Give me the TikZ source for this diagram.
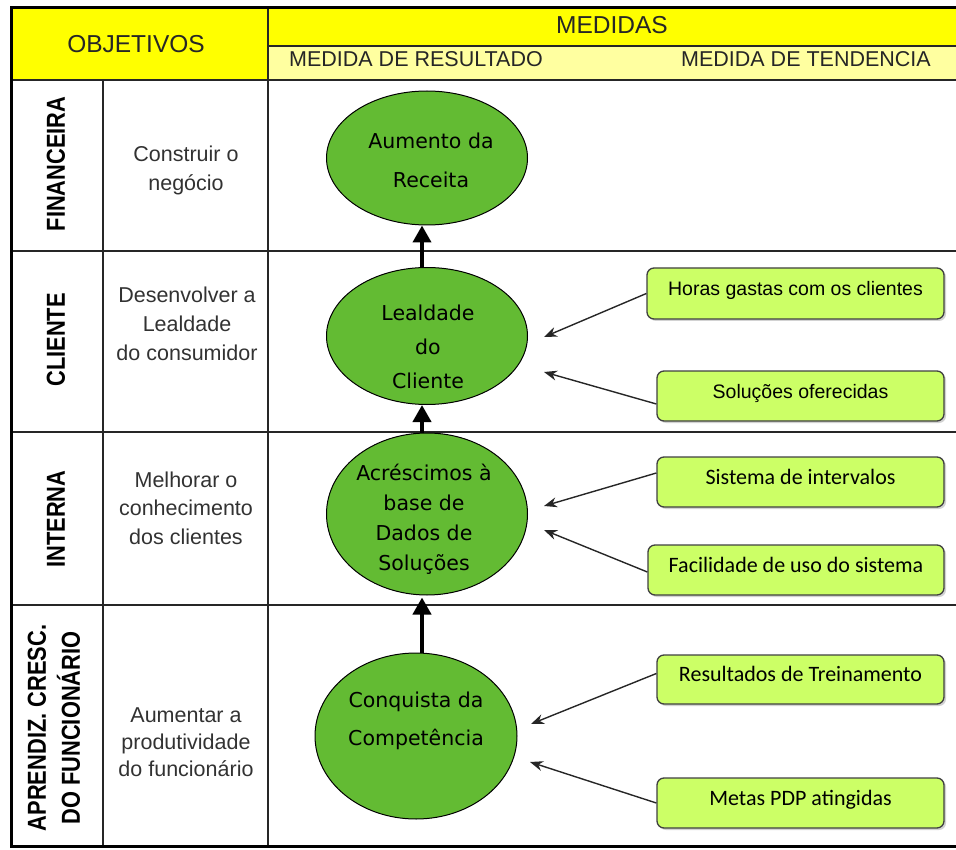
\documentclass[tikz,border=0pt]{standalone}
\usepackage{fontspec}
\setmainfont{Liberation Sans}
\newfontfamily\calfont{Carlito}
\newfontfamily\ellfont{DejaVu Sans}
\usetikzlibrary{shapes.geometric,arrows.meta,shadows}
\definecolor{hdryellow}{RGB}{255,255,0}
\definecolor{subyellow}{RGB}{255,255,160}
\definecolor{ellgreen}{RGB}{99,187,51}
\definecolor{boxgreen}{RGB}{204,255,102}
\definecolor{txtgray}{RGB}{50,50,50}
\begin{document}
\begin{tikzpicture}[x=1pt,y=-1pt,
  gridline/.style={line width=1.6pt, draw=black!85},
  outerline/.style={line width=3pt, draw=black},
  rowlabel/.style={rotate=90, font=\bfseries\fontsize{26}{34}\selectfont, inner sep=0pt},
  objtext/.style={font=\fontsize{21.5}{29}\selectfont, text=txtgray, align=center, inner sep=0pt},
  hdrtext/.style={font=\fontsize{24.5}{28}\selectfont, text=black!85, inner sep=0pt},
  subhdr/.style={font=\fontsize{21.5}{24}\selectfont, text=black!85, inner sep=0pt},
  ell/.style={ellipse, draw=black, line width=1pt, fill=ellgreen, inner sep=0pt},
  elltext/.style={font=\ellfont\fontsize{20.5}{#1}\selectfont, align=center, inner sep=0pt},
  measbox/.style={rectangle, rounded corners=7pt, draw=black!75, line width=1.3pt, fill=boxgreen,
    drop shadow={shadow xshift=2pt, shadow yshift=-2pt, fill=black!35},
    inner sep=0pt, text height=14pt, text depth=10pt},
  armfont/.style={font=\fontsize{19.5}{22}\selectfont},
  calfontsty/.style={font=\calfont\fontsize{22}{24}\selectfont},
  bigarrow/.style={-{Triangle[length=17pt,width=18pt]}, line width=4pt},
  smallarrow/.style={-{Stealth[length=13pt,width=10pt]}, line width=1.4pt, draw=black!85},
]
\useasboundingbox (0,0) rectangle (956,850);

% header fills
\fill[hdryellow] (10,8) rectangle (268,80);
\fill[hdryellow] (268,8) rectangle (962,46);
\fill[subyellow] (268,46) rectangle (962,80);

% grid lines
\draw[gridline] (268,46) -- (962,46);
\draw[gridline] (10,80) -- (962,80);
\draw[gridline] (10,251) -- (962,251);
\draw[gridline] (10,432) -- (962,432);
\draw[gridline] (10,605) -- (962,605);
\draw[gridline] (103,80) -- (103,847);
\draw[gridline] (268,8) -- (268,847);
\draw[outerline] (11,8) rectangle (962,846.5);

% header texts
\node[hdrtext] (hobj) at (136,44) {OBJETIVOS};
\node[hdrtext] (hmed) at (612,25) {MEDIDAS};
\node[subhdr] (hres) at (416,59) {MEDIDA DE RESULTADO};
\node[subhdr] (hten) at (806,59) {MEDIDA DE TENDENCIA};

% row labels
\node[rowlabel] (lfin) at (56,164) {\scalebox{0.84}[1]{FINANCEIRA}};
\node[rowlabel] (lcli) at (56,340) {\scalebox{0.84}[1]{CLIENTE}};
\node[rowlabel] (lint) at (56,519) {\scalebox{0.84}[1]{INTERNA}};
\node[rowlabel] (lapr) at (56,728) {\scalebox{0.84}[1]{\begin{tabular}{@{}c@{}}APRENDIZ. CRESC.\\DO FUNCIONÁRIO\end{tabular}}};

% objectives
\node[objtext] (ofin) at (186,170) {Construir o\\negócio};
\node[objtext] (ocli) at (187,324) {Desenvolver a\\Lealdade\\do consumidor};
\node[objtext, font=\fontsize{21.5}{28.5}\selectfont] (oint) at (186,508) {Melhorar o\\conhecimento\\dos clientes};
\node[objtext, font=\fontsize{21.5}{27}\selectfont] (oapr) at (186,742) {Aumentar a\\produtividade\\do funcionário};

% ellipses
\node[ell, minimum width=201pt, minimum height=134pt] (e1) at (427,158) {};
\node[ell, minimum width=201pt, minimum height=137pt] (e2) at (427,336) {};
\node[ell, minimum width=201pt, minimum height=162pt] (e3) at (427,514) {};
\node[ell, minimum width=202pt, minimum height=166pt] (e4) at (416,736) {};
\node[elltext=39pt] (t1) at (431,160) {Aumento da\\Receita};
\node[elltext=34pt] (t2) at (428,347) {Lealdade\\do\\Cliente};
\node[elltext=30pt] (t3) at (424,519) {Acréscimos à\\base de\\Dados de\\Soluções};
\node[elltext=38pt] (t4) at (416,721) {Conquista da\\Competência};

% vertical arrows
\coordinate (ax) at (422,0);
\draw[bigarrow] (e2.north -| ax) -- (e1.south -| ax);
\draw[bigarrow] (e3.north -| ax) -- (e2.south -| ax);
\draw[bigarrow] (e4.north -| ax) -- ([yshift=-2pt]e3.south -| ax);

% measure boxes
\node[measbox, armfont, minimum width=297pt, minimum height=51pt] (b1) at (795.5,293.5) {Horas gastas com os clientes};
\node[measbox, armfont, minimum width=287pt, minimum height=50pt] (b2) at (800.5,396) {Soluções oferecidas};
\node[measbox, calfontsty, minimum width=287pt, minimum height=50pt] (b3) at (800.5,482) {Sistema de intervalos};
\node[measbox, calfontsty, minimum width=296pt, minimum height=50pt] (b4) at (796,570) {Facilidade de uso do sistema};
\node[measbox, calfontsty, minimum width=287pt, minimum height=49pt] (b5) at (800.5,679.5) {Resultados de Treinamento};
\node[measbox, calfontsty, minimum width=287pt, minimum height=50pt] (b6) at (800.5,803) {Metas PDP atingidas};

% arrow targets
\coordinate (c1) at (544,337);
\coordinate (c2) at (544,372);
\coordinate (c3) at (544,506);
\coordinate (c4) at (544,530);
\coordinate (c5) at (531,724);
\coordinate (c6) at (530,762);

\draw[smallarrow] (b1.west) -- (c1);
\draw[smallarrow] ([yshift=-8pt]b2.west) -- (c2);
\draw[smallarrow] ([yshift=9pt]b3.west) -- (c3);
\draw[smallarrow] ([yshift=-2pt]b4.west) -- (c4);
\draw[smallarrow] ([yshift=6pt]b5.west) -- (c5);
\draw[smallarrow] (b6.west) -- (c6);
\end{tikzpicture}
\end{document}
